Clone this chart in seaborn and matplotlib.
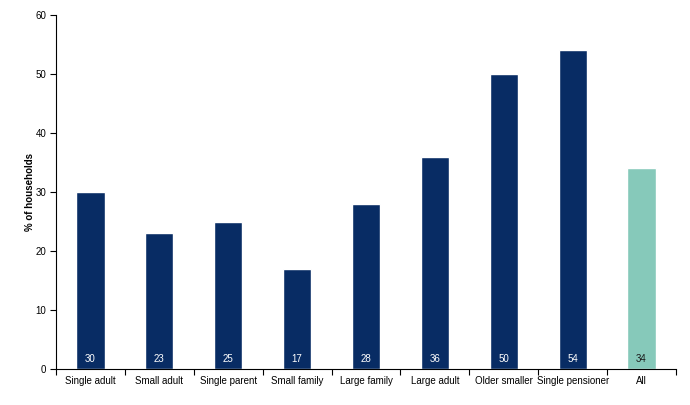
import matplotlib
matplotlib.use("Agg")
import matplotlib.pyplot as plt
import seaborn as sns
import pandas as pd
import numpy as np

categories = ["Single adult", "Small adult", "Single parent", "Small family", "Large family",
              "Large adult", "Older smaller", "Single pensioner", "All"]
values = [30, 23, 25, 17, 28, 36, 50, 54, 34]
y_ticks = [0, 10, 20, 30, 40, 50, 60]

navy = "#082C64"
teal = "#86C9BA"
colors = [navy] * 8 + [teal]

sns.set_theme(style="white")
plt.rcParams['font.family'] = ['Liberation Sans', 'DejaVu Sans']
plt.rcParams['text.color'] = 'black'
plt.rcParams['xtick.color'] = 'black'
plt.rcParams['ytick.color'] = 'black'
plt.rcParams['axes.labelcolor'] = 'black'

df = pd.DataFrame({"cat": categories, "val": values})

fig = plt.figure(figsize=(6.9, 4.05), dpi=100)
ax = fig.add_axes([56/690, 1-369/405, (676-56)/690, (369-15)/405])
sns.barplot(data=df, x="cat", y="val", hue="cat", palette=colors, legend=False,
            width=0.41, ax=ax, saturation=1)

ax.set_ylim(0, 60)
ax.set_xlim(-0.5, len(categories) - 0.5)
ax.set_yticks(y_ticks)
ax.set_yticklabels([str(t) for t in y_ticks], fontsize=7)
ax.set_xticks(range(len(categories)))
ax.set_xticklabels(categories, fontsize=7)
ax.tick_params(axis='x', which='major', length=0, pad=5)
ax.set_xticks(np.arange(-0.5, len(categories), 1), minor=True)
ax.tick_params(axis='x', which='minor', length=4, width=0.8, color='black', direction='out', bottom=True)
ax.tick_params(axis='y', which='major', length=4, width=0.8, color='black', direction='out', left=True, pad=3)
for s in ["top", "right"]:
    ax.spines[s].set_visible(False)
for s in ["left", "bottom"]:
    ax.spines[s].set_color("black")
    ax.spines[s].set_linewidth(0.8)

ax.set_xlabel("")
ax.set_ylabel("% of households", fontsize=7, fontweight="bold", labelpad=0.5)

for i, v in enumerate(values):
    ax.text(i, 1.7, str(v), ha="center", va="center", fontsize=7,
            color="white" if i < 8 else "#1a1a1a")

fig.savefig("out.png", dpi=100)
